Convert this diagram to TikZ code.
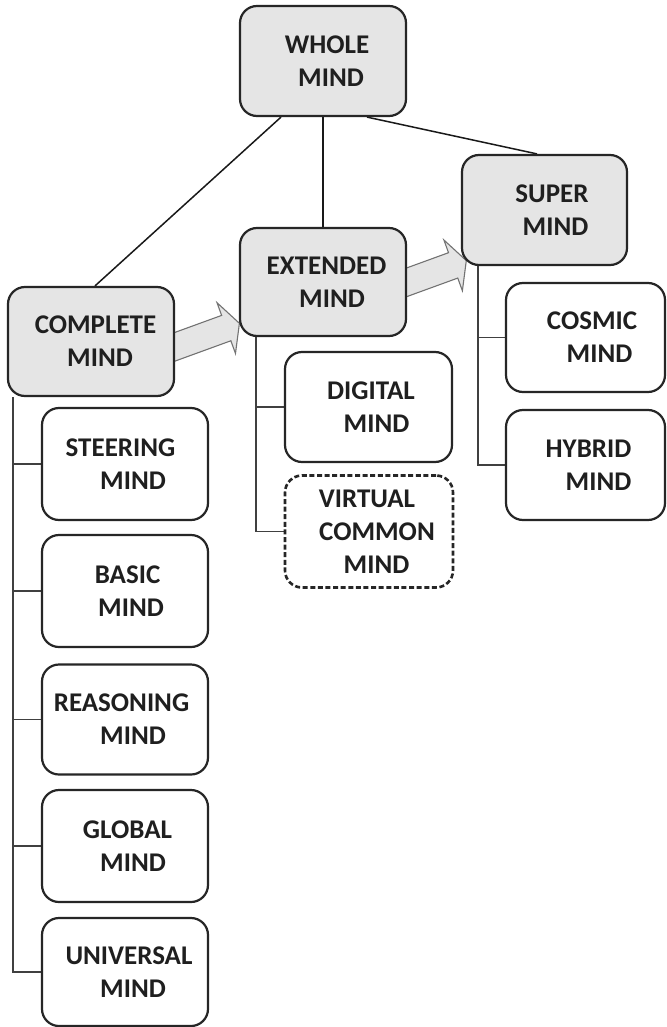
\documentclass[tikz,border=0pt]{standalone}
\usepackage{fontspec}
\setmainfont{Carlito}
\pgfdeclarelayer{bg}
\pgfsetlayers{bg,main}
\begin{document}
\begin{tikzpicture}[x=1pt,y=1pt,
  box/.style={draw=black!85, line width=2.2pt, rounded corners=17pt, fill=white,
    inner sep=0pt, align=center, text=black!88,
    font=\bfseries\fontsize{27}{33}\selectfont},
  hub/.style={box, fill=black!10},
  ghost/.style={box, dash pattern=on 5pt off 2.6pt, line width=2.6pt},
  tree/.style={draw=black!75, line width=1.3pt},
  link/.style={draw=black!90, line width=1.5pt},
  flow/.style={fill=black!10, draw=black!55, line width=1.1pt, line join=miter}]
\useasboundingbox (0,0) rectangle (666,-1027);

% top level
\node[hub, minimum width=166pt, minimum height=110pt] (whole) at (323,-61)
  {\hspace*{8pt}WHOLE\\\hspace*{16pt}MIND};
\node[hub, minimum width=165pt, minimum height=110pt] (super) at (544.5,-210)
  {\hspace*{15pt}SUPER\\\hspace*{22pt}MIND};
\node[hub, minimum width=166pt, minimum height=108pt] (extended) at (323,-282)
  {\hspace*{7pt}EXTENDED\\\hspace*{18pt}MIND};
\node[hub, minimum width=166pt, minimum height=109pt] (complete) at (91,-341.5)
  {\hspace*{9pt}COMPLETE\\\hspace*{18pt}MIND};

% children of SUPER MIND
\node[box, minimum width=159pt, minimum height=109pt] (cosmic) at (585.5,-337.5)
  {\hspace*{13pt}COSMIC\\\hspace*{28pt}MIND};
\node[box, minimum width=159pt, minimum height=110pt] (hybrid) at (585.5,-465)
  {\hspace*{6pt}HYBRID\\\hspace*{26pt}MIND};

% children of EXTENDED MIND
\node[box, minimum width=167pt, minimum height=110pt] (digital) at (368.5,-407)
  {\hspace*{5pt}DIGITAL\\\hspace*{16pt}MIND};
\node[ghost, minimum width=168pt, minimum height=112pt] (virtual) at (369,-531.5)
  {VIRTUAL\hspace*{4pt}\\\hspace*{16pt}COMMON\\\hspace*{15pt}MIND};

% children of COMPLETE MIND
\node[box, minimum width=166pt, minimum height=112pt] (steer) at (125,-464)
  {STEERING\hspace*{9pt}\\\hspace*{16pt}MIND};
\node[box, minimum width=166pt, minimum height=112pt] (basic) at (125,-591)
  {\hspace*{5pt}BASIC\\\hspace*{12pt}MIND};
\node[box, minimum width=166pt, minimum height=110pt] (reason) at (125,-719.5)
  {REASONING\hspace*{7pt}\\\hspace*{16pt}MIND};
\node[box, minimum width=166pt, minimum height=112pt] (global) at (125,-846)
  {\hspace*{5pt}GLOBAL\\\hspace*{16pt}MIND};
\node[box, minimum width=166pt, minimum height=108pt] (universal) at (125,-972)
  {\hspace*{8pt}UNIVERSAL\\\hspace*{16pt}MIND};

\begin{pgfonlayer}{bg}
  \fill[white] (0,0) rectangle (666,-1027);
  % links from the top
  \draw[link] ([xshift=-42pt]whole.south) -- ([xshift=4pt]complete.north);
  \draw[link] (whole.south) -- (extended.north);
  \draw[link] ([xshift=44pt]whole.south) -- ([xshift=-7.5pt]super.north);

  % trees
  \foreach \c in {steer,basic,reason,global,universal}
    \draw[tree] ([xshift=6pt]complete.south west) |- (\c.west);
  \foreach \c in {digital,virtual}
    \draw[tree] ([xshift=17pt]extended.south west) |- (\c.west);
  \foreach \c in {cosmic,hybrid}
    \draw[tree] ([xshift=17pt]super.south west) |- (\c.west);

  % block arrows
  \draw[flow, shift={([xshift=0.5pt,yshift=-41.3pt]extended.west)}, rotate=20]
    (0,0) -- (-14,27) -- (-14,13.5) -- (-94,13.5) -- (-94,-13.5)
    -- (-14,-13.5) -- (-14,-27) -- cycle;
  \draw[flow, shift={([xshift=5.4pt,yshift=-50.6pt]super.west)}, rotate=20]
    (0,0) -- (-14,27) -- (-14,13.5) -- (-94,13.5) -- (-94,-13.5)
    -- (-14,-13.5) -- (-14,-27) -- cycle;
\end{pgfonlayer}
\end{tikzpicture}
\end{document}
